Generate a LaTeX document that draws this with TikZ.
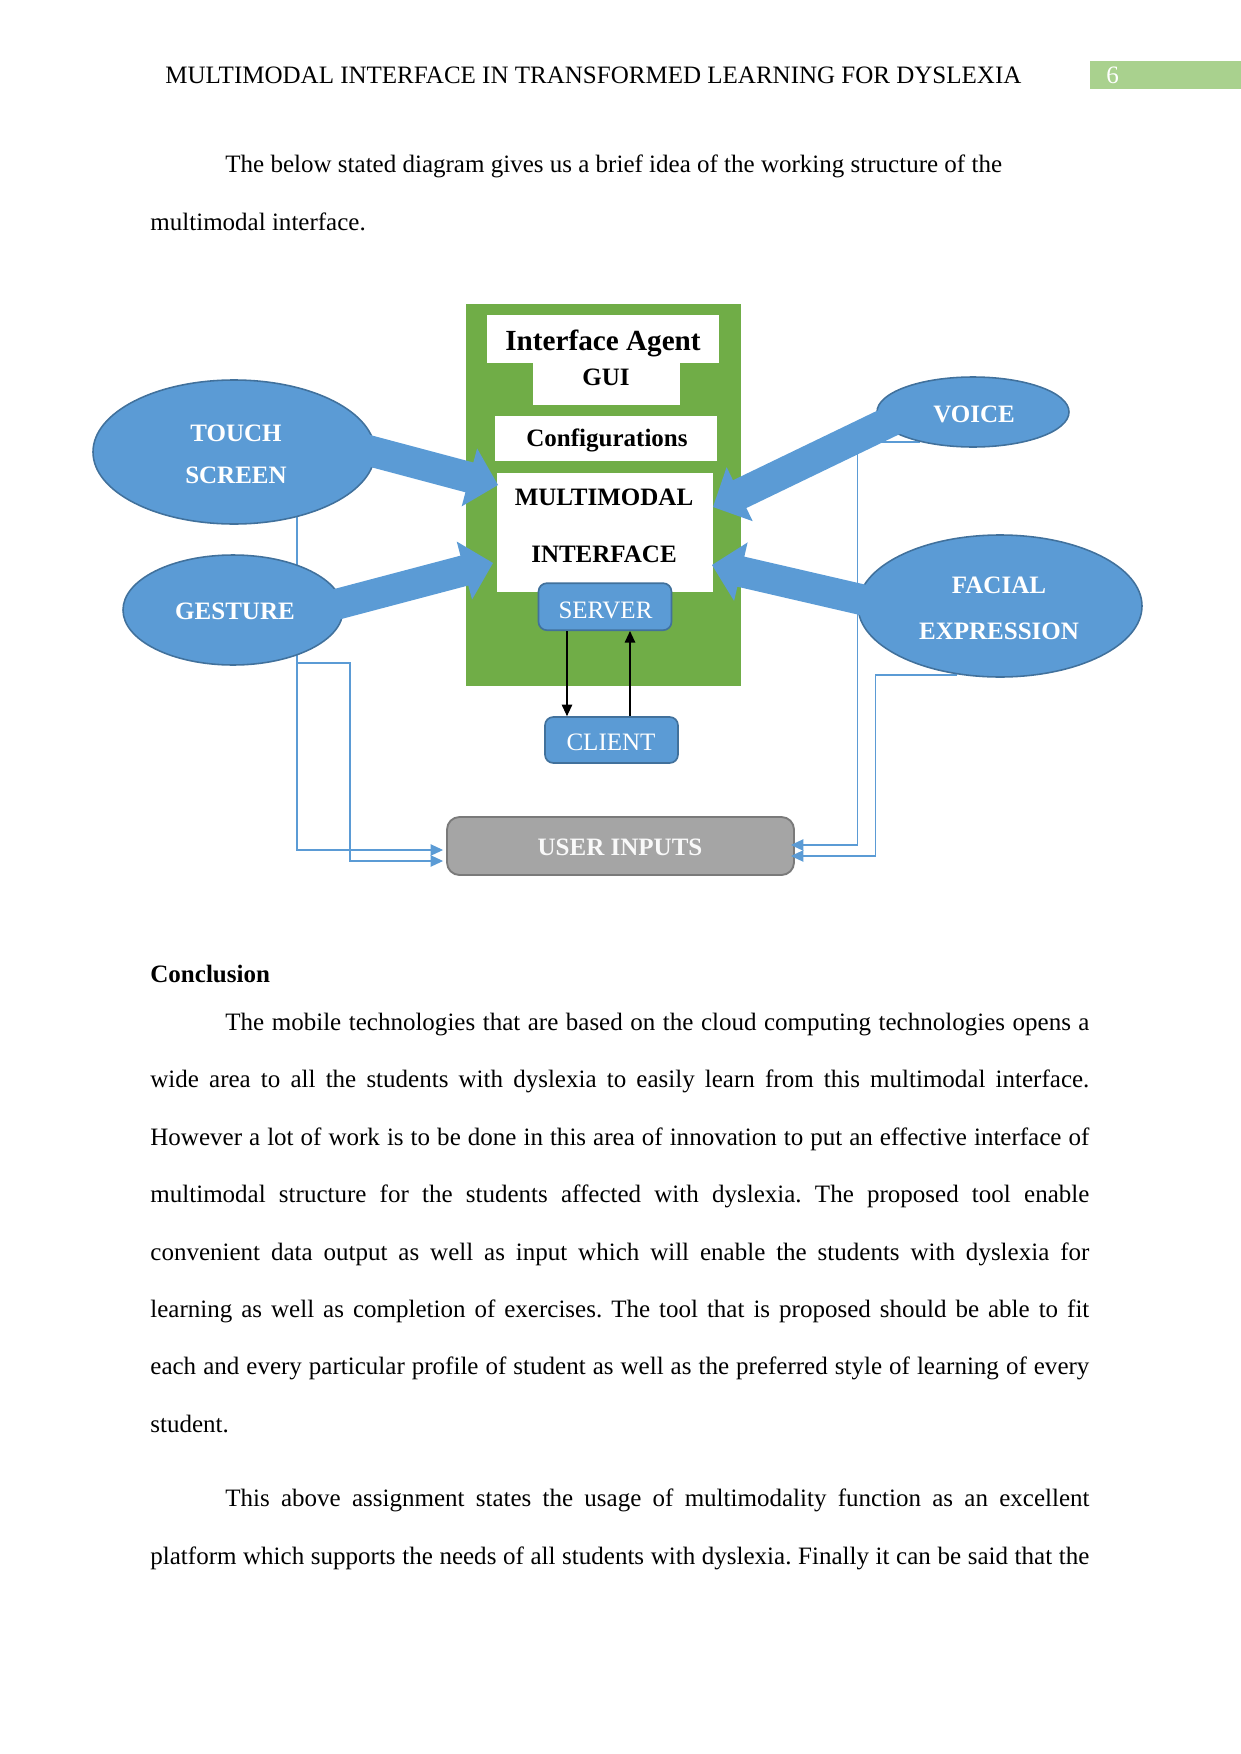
\documentclass[tikz,border=0pt]{standalone}
\usepackage{fontspec}
\setmainfont{Liberation Serif}
\usetikzlibrary{arrows.meta,calc,shapes.geometric}
\definecolor{agreen}{HTML}{70AD47}
\definecolor{hgreen}{HTML}{A9D18E}
\definecolor{bfill}{HTML}{5B9BD5}
\definecolor{bborder}{HTML}{41719C}
\definecolor{gfill}{HTML}{A5A5A5}
\definecolor{gborder}{HTML}{7A7A7A}
\def\pxu{0.4797pt}
\def\bsa{7.4pt}
\def\bhb{14.4pt}
\def\bhl{14.2pt}
\newcommand\blockarrow[2]{%
  \coordinate (#1H) at ($(#2)!\bhl!(#1)$);
  \fill[bfill] ($(#1)!\bsa!90:(#2)$) -- ($(#1H)!\bsa!90:(#2)$) -- ($(#1H)!\bhb!90:(#2)$)
    -- (#2) -- ($(#1H)!\bhb!-90:(#2)$) -- ($(#1H)!\bsa!-90:(#2)$) -- ($(#1)!\bsa!-90:(#2)$) -- cycle;}
\tikzset{
  body/.style={anchor=base west, inner sep=0, font=\fontsize{12}{14}\selectfont},
  lab/.style={anchor=base, inner sep=0, font=\fontsize{12}{14}\selectfont\bfseries},
  wlab/.style={lab, text=white},
  llab/.style={anchor=base, inner sep=0, font=\fontsize{12}{14}\selectfont, text=white},
  wbox/.style={rectangle, fill=white, inner sep=0},
  bell/.style={ellipse, fill=bfill, draw=bborder, line width=0.75pt, inner sep=0},
  rbox/.style={rectangle, rounded corners=4pt, fill=bfill, draw=bborder, line width=0.8pt, inner sep=0},
  conn/.style={draw=bfill, line width=0.5pt, -{Triangle[length=6pt,width=5.5pt]}},
  bconn/.style={draw=black, line width=0.55pt, -{Triangle[length=5.5pt,width=5pt]}}
}
\frenchspacing
\begin{document}
\begin{tikzpicture}[x=0.4797pt,y=-0.4797pt]
\useasboundingbox (0,0) rectangle (1241,1754);
% header
\node[body] (hdr) at (165,84) {MULTIMODAL INTERFACE IN TRANSFORMED LEARNING FOR DYSLEXIA};
\node[fill=hgreen, minimum width=151*\pxu, minimum height=28*\pxu, inner sep=0, anchor=north west] (pgbox) at (1090,61) {};
\node[body, text=white] (pgno) at (1106,84) {6};
% intro
\node[body] (i1) at (225,173) {The below stated diagram gives us a brief idea of the working structure of the};
\node[body] (i2) at (150,230) {multimodal interface.};
% diagram: green container
\node[fill=agreen, minimum width=275*\pxu, minimum height=382*\pxu, inner sep=0] (green) at (603.5,495) {};
\node[wbox, minimum width=232*\pxu, minimum height=48*\pxu] (agent) at (603,339) {};
\node[wbox, minimum width=147*\pxu, minimum height=42*\pxu] (gui) at (606,384) {};
\node[wbox, minimum width=222*\pxu, minimum height=45*\pxu] (config) at (606,438.2) {};
\node[wbox, minimum width=216*\pxu, minimum height=118.5*\pxu] (mm) at (604.7,532.5) {};
\node[lab, font=\fontsize{14}{16}\selectfont\bfseries] (agentt) at (603,350) {Interface Agent};
\node[lab] (guit) at (606,385) {GUI};
\node[lab] (configt) at (607,446.5) {Configurations};
\node[lab] (mmt1) at (604,505) {MULTIMODAL};
\node[lab] (mmt2) at (604,562) {INTERFACE};
\node[rbox, minimum width=133*\pxu, minimum height=47*\pxu] (server) at (605,606.7) {};
\node[llab] (servert) at (605.5,618) {SERVER};
% client
\node[rbox, minimum width=133*\pxu, minimum height=46*\pxu] (client) at (611.5,740) {};
\node[llab] (clientt) at (611,750) {CLIENT};
\coordinate (s1) at ($(server.south)+(-38,0)$);
\coordinate (s2) at ($(server.south)+(25,0)$);
\draw[bconn] (s1) -- (s1 |- client.north);
\draw[bconn] (s2 |- client.north) -- (s2);
% user inputs
\node[rectangle, rounded corners=6pt, fill=gfill, draw=gborder, line width=0.9pt, minimum width=347*\pxu, minimum height=58*\pxu, inner sep=0] (ui) at (620.5,846) {};
\node[wlab, text=white!95!gray] (uit) at (620,855) {USER INPUTS};
% thin connectors (under ellipses)
\coordinate (tc) at (297,505);
\coordinate (gc) at (297,663);
\coordinate (vc) at (920,442);
\coordinate (fc) at (957,675);
\draw[conn] (tc) |- ($(ui.west)+(-3,4)$);
\draw[conn] (gc) -- (350,663) |- ($(ui.west)+(-3,15)$);
\draw[conn] (vc) -| ($(ui.east)+(63,-1)$) -- ($(ui.east)+(-4,-1)$);
\draw[conn] (fc) -| ($(ui.east)+(81,10)$) -- ($(ui.east)+(-4,10)$);
% ellipses
\node[bell, minimum width=282*\pxu, minimum height=144*\pxu] (touch) at (234,452) {};
\node[bell, minimum width=220*\pxu, minimum height=110*\pxu] (gesture) at (233,610) {};
\node[bell, minimum width=192*\pxu, minimum height=70*\pxu] (voice) at (973,412) {};
\node[bell, minimum width=284*\pxu, minimum height=142*\pxu] (facial) at (1000,606) {};
\node[wlab] (toucht1) at (236,441) {TOUCH};
\node[wlab] (toucht2) at (236,483) {SCREEN};
\node[wlab] (gesturet) at (235,619) {GESTURE};
\node[wlab] (voicet) at (974,422) {VOICE};
\node[wlab] (facialt1) at (999,593) {FACIAL};
\node[wlab] (facialt2) at (999,639) {EXPRESSION};
% block arrows
\coordinate (ta) at (350,445.6);
\coordinate (tt) at (498,485);
\coordinate (ga) at (320,608.7);
\coordinate (gt) at (493,563);
\coordinate (va) at (910,412);
\coordinate (vt) at (713,507);
\coordinate (fa) at (885,605);
\coordinate (ft) at (712,565);
\blockarrow{ta}{tt}
\blockarrow{ga}{gt}
\blockarrow{va}{vt}
\blockarrow{fa}{ft}
% conclusion
\node[body, font=\fontsize{12}{14}\selectfont\bfseries] (conc) at (150,982.5) {Conclusion};
\node[body] (p1) at (225,1030.5) {\makebox[414.5pt][s]{The mobile technologies that are based on the cloud computing technologies opens a}};
\node[body] (p2) at (150,1087.9) {\makebox[450.4pt][s]{wide area to all the students with dyslexia to easily learn from this multimodal interface.}};
\node[body] (p3) at (150,1145.3) {\makebox[450.4pt][s]{However a lot of work is to be done in this area of innovation to put an effective interface of}};
\node[body] (p4) at (150,1202.7) {\makebox[450.4pt][s]{multimodal structure for the students affected with dyslexia. The proposed tool enable}};
\node[body] (p5) at (150,1260.1) {\makebox[450.4pt][s]{convenient data output as well as input which will enable the students with dyslexia for}};
\node[body] (p6) at (150,1317.5) {\makebox[450.4pt][s]{learning as well as completion of exercises. The tool that is proposed should be able to fit}};
\node[body] (p7) at (150,1374.9) {\makebox[450.4pt][s]{each and every particular profile of student as well as the preferred style of learning of every}};
\node[body] (p8) at (150,1432.3) {student.};
\node[body] (q1) at (225,1506.5) {\makebox[414.5pt][s]{This above assignment states the usage of multimodality function as an excellent}};
\node[body] (q2) at (150,1564.5) {\makebox[450.4pt][s]{platform which supports the needs of all students with dyslexia. Finally it can be said that the}};
\end{tikzpicture}
\end{document}
